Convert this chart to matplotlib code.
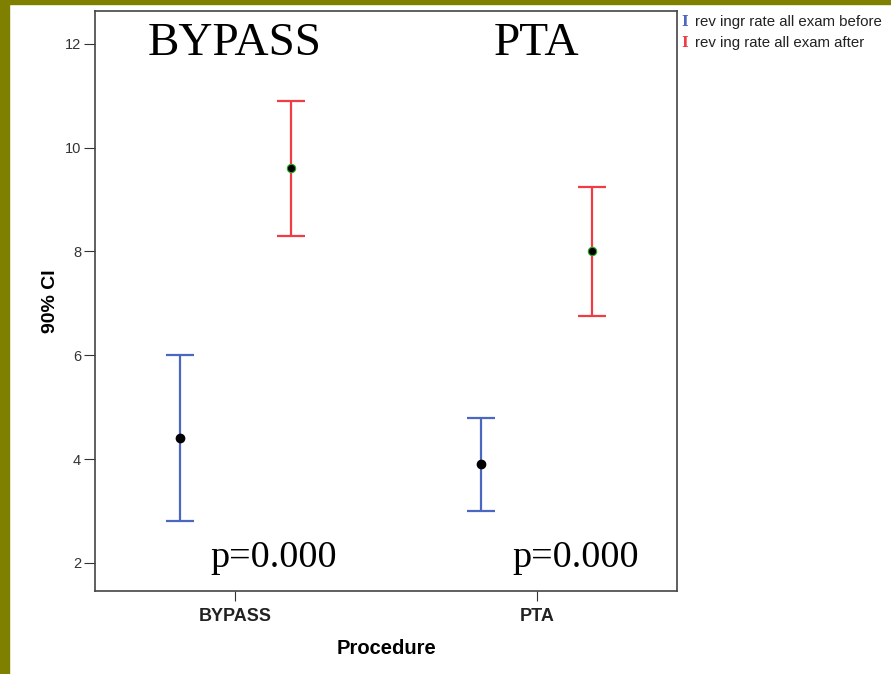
import numpy as np
import matplotlib.pyplot as plt
from matplotlib.patches import Rectangle

plt.rcParams['font.family'] = ['Liberation Sans', 'DejaVu Sans']

procedures = ['BYPASS', 'PTA']
before_mean = [4.4, 3.9]
before_low = [2.8, 3.0]
before_high = [6.0, 4.8]
after_mean = [9.6, 8.0]
after_low = [8.3, 6.75]
after_high = [10.9, 9.25]
p_values = ['p=0.000', 'p=0.000']
series_names = ['rev ingr rate all exam before', 'rev ing rate all exam after']

blue = '#4a67c2'
red = '#ee3d45'

fig = plt.figure(figsize=(8.91, 6.74), dpi=100)
# olive slide border on the left and top
fig.patches.append(Rectangle((0, 0), 9 / 891, 1, transform=fig.transFigure, color='#808000', zorder=0))
fig.patches.append(Rectangle((0, 1 - 4 / 674), 1, 4 / 674, transform=fig.transFigure, color='#808000', zorder=0))

ax = fig.add_axes([95 / 891, 1 - 591 / 674, 582 / 891, 580 / 674])

x = np.arange(len(procedures))
off = 0.184

bm = np.array(before_mean)
am = np.array(after_mean)
yerr_b = [bm - np.array(before_low), np.array(before_high) - bm]
yerr_a = [am - np.array(after_low), np.array(after_high) - am]

ax.errorbar(x - off, bm, yerr=yerr_b, fmt='none', ecolor=blue, elinewidth=1.6,
            capsize=10, capthick=1.6)
ax.errorbar(x + off, am, yerr=yerr_a, fmt='none', ecolor=red, elinewidth=1.6,
            capsize=10, capthick=1.6)
ax.plot(x - off, bm, 'o', color='black', ms=6, zorder=3)
ax.plot(x + off, am, 'o', color='black', mec='#22aa22', mew=0.8, ms=6, zorder=3)

ax.set_xlim(-0.464, 1.464)
ax.set_ylim(1.46, 12.63)
ax.set_yticks([2, 4, 6, 8, 10, 12])
ax.set_xticks(x)
ax.set_xticklabels(procedures, fontweight='bold', fontsize=13)
ax.tick_params(axis='y', labelsize=10.5, length=8, pad=2, colors='#333333', labelcolor='#333333')
ax.tick_params(axis='x', length=7, pad=5, colors='#333333', labelcolor='#222222')
for s in ax.spines.values():
    s.set_color('#444444')
    s.set_linewidth(1.2)

ax.set_ylabel('90% CI', fontweight='bold', fontsize=14, labelpad=4)
ax.set_xlabel('Procedure', fontweight='bold', fontsize=14.5, labelpad=10)

# group headings and p-values
for i, name in enumerate(procedures):
    ax.text(x[i], 11.79, name, family='Liberation Serif', fontsize=34,
            ha='center', va='baseline')
    ax.text(x[i] + 0.127, 1.92, p_values[i], family='Liberation Serif', fontsize=27.5,
            ha='center', va='baseline')

# legend entries drawn as coloured bar glyphs next to their labels
for k, (name, col) in enumerate(zip(series_names, [blue, red])):
    yy = 1 - (22 + 21 * k) / 674
    fig.text(681 / 891, yy, 'I', family='DejaVu Serif', fontweight='bold',
             fontsize=10, color=col, va='center', ha='left')
    fig.text(695 / 891, yy, name, fontsize=10.8, color='#222222', va='center', ha='left')

fig.savefig('out.png', dpi=100)
